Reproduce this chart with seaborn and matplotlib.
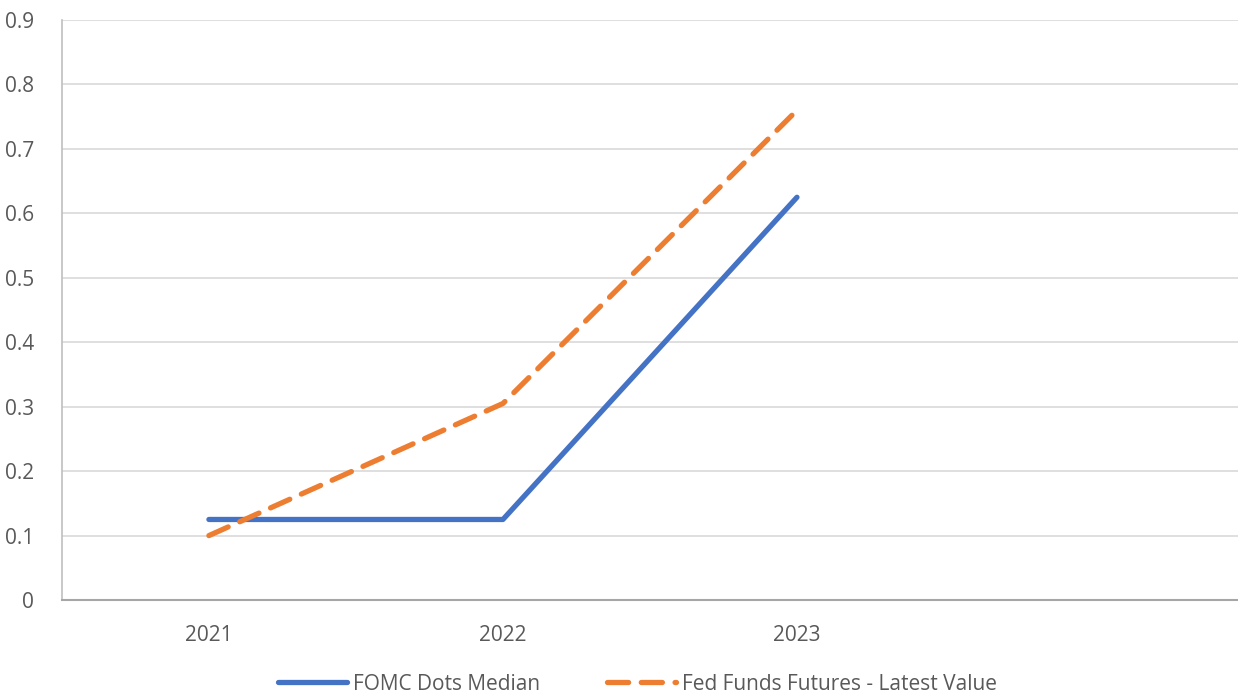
import matplotlib
matplotlib.use("Agg")
import matplotlib.pyplot as plt
import seaborn as sns
import pandas as pd

years = ["2021", "2022", "2023"]
fomc = [0.125, 0.125, 0.625]
futures = [0.10, 0.305, 0.76]
yticks = [0, 0.1, 0.2, 0.3, 0.4, 0.5, 0.6, 0.7, 0.8, 0.9]

sns.set_theme(style="white")
plt.rcParams['font.family'] = ['Open Sans', 'DejaVu Sans']

df = pd.DataFrame({
    "year": years * 2,
    "value": fomc + futures,
    "series": ["FOMC Dots Median"] * 3 + ["Fed Funds Futures - Latest Value"] * 3,
})

fig = plt.figure(figsize=(12.38, 6.94), dpi=100)
ax = fig.add_axes([0.050, 0.1354, 0.950, 0.8357])

blue = "#4472C4"
orange = "#ED7D31"
dash = (0, (4.0, 2.4))
sns.lineplot(data=df[df.series == "FOMC Dots Median"], x="year", y="value",
             ax=ax, color=blue, linewidth=3.8, solid_capstyle="round",
             label="FOMC Dots Median", sort=False)
sns.lineplot(data=df[df.series != "FOMC Dots Median"], x="year", y="value",
             ax=ax, color=orange, linewidth=3.8, dashes=False,
             label="Fed Funds Futures - Latest Value", sort=False)
ax.lines[1].set_linestyle(dash)
ax.lines[1].set_dash_capstyle("round")

ax.set_xlim(-0.5, 3.5)
ax.set_ylim(0, 0.9)
ax.set_yticks(yticks)
ax.set_yticklabels([f"{v:g}" for v in yticks])
ax.yaxis.grid(True, color="#D9D9D9", linewidth=1.2)
ax.set_axisbelow(True)
for s in ["top", "right"]:
    ax.spines[s].set_visible(False)
ax.spines["left"].set_color("#BFBFBF")
ax.spines["left"].set_linewidth(1.2)
ax.spines["bottom"].set_color("#A6A6A6")
ax.spines["bottom"].set_linewidth(1.5)
ax.tick_params(axis="both", length=0, labelsize=15, labelcolor="#595959")
ax.tick_params(axis="x", pad=18)
ax.tick_params(axis="y", pad=20)
ax.set_xlabel("")
ax.set_ylabel("")

handles, labels = ax.get_legend_handles_labels()
ax.get_legend().remove()
leg = fig.legend(handles, labels, loc="center", bbox_to_anchor=(0.515, 0.014), ncol=2,
                 frameon=False, fontsize=15, handlelength=3.3, handletextpad=0.3,
                 columnspacing=3.2, borderpad=0)
for t in leg.get_texts():
    t.set_color("#595959")
leg.get_lines()[1].set_linestyle(dash)
leg.get_lines()[1].set_dash_capstyle("round")

fig.savefig("out.png", dpi=100)
